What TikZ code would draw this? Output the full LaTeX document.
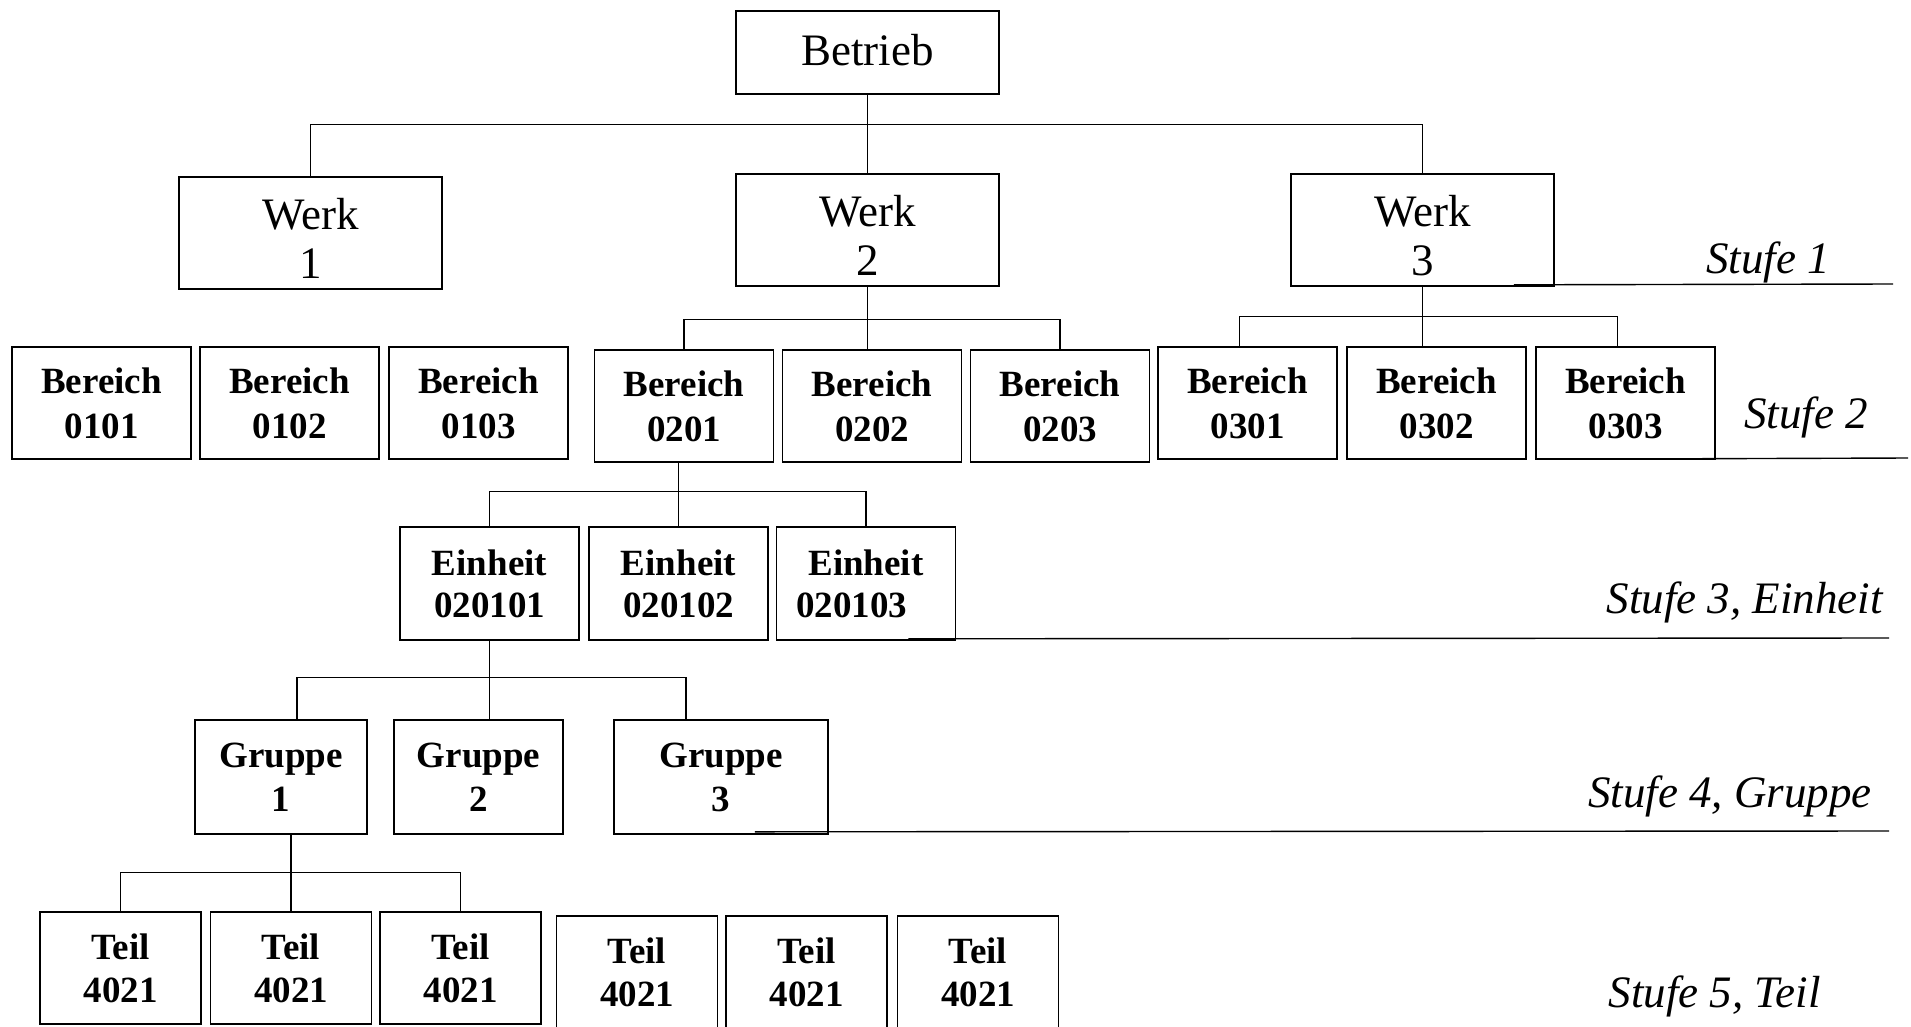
\documentclass[tikz,border=0pt]{standalone}
\usepackage{fontspec}
\setmainfont{Liberation Serif}
\begin{document}
\begin{tikzpicture}[x=1pt, y=-1pt,
    orgbox/.style={draw, line width=1.6pt, inner sep=0pt, align=center},
    werkbox/.style={orgbox, minimum width=263pt, minimum height=112pt, font=\fontsize{45}{49}\selectfont},
    bereichbox/.style={orgbox, minimum width=179pt, minimum height=112pt, font=\fontsize{37}{45}\selectfont\bfseries},
    einheitbox/.style={orgbox, minimum width=179pt, minimum height=113pt, font=\fontsize{37}{42}\selectfont\bfseries},
    gruppebox/.style={orgbox, minimum height=114pt, font=\fontsize{37}{44}\selectfont\bfseries},
    teilbox/.style={orgbox, minimum width=161pt, minimum height=112pt, font=\fontsize{37}{43}\selectfont\bfseries},
    conn/.style={line width=1.4pt},
    lvl/.style={inner sep=0pt, anchor=base east, font=\fontsize{45}{49}\selectfont\itshape}]
    \useasboundingbox (0,0) rectangle (1911,1026);
    \clip (0,0) rectangle (1911,1026);

    \node[werkbox, minimum height=83pt] (betrieb) at (867.5,52.5) {Betrieb\rule[-5pt]{0pt}{5pt}};
    \node[werkbox] (werk1) at (310.5,233) {\rule{0pt}{42pt}Werk\\1};
    \node[werkbox] (werk2) at (867.5,230) {\rule{0pt}{42pt}Werk\\2};
    \node[werkbox] (werk3) at (1422.5,230) {\rule{0pt}{42pt}Werk\\3};

    \node[bereichbox] (b0101) at (101.5,403) {Bereich\\0101};
    \node[bereichbox] (b0102) at (289.5,403) {Bereich\\0102};
    \node[bereichbox] (b0103) at (478.5,403) {Bereich\\0103};
    \node[bereichbox] (b0201) at (684,406) {Bereich\\0201};
    \node[bereichbox] (b0202) at (872,406) {Bereich\\0202};
    \node[bereichbox] (b0203) at (1060,406) {Bereich\\0203};
    \node[bereichbox] (b0301) at (1247.5,403) {Bereich\\0301};
    \node[bereichbox] (b0302) at (1436.5,403) {Bereich\\0302};
    \node[bereichbox] (b0303) at (1625.5,403) {Bereich\\0303};

    \node[einheitbox] (e020101) at (489.5,583.5) {Einheit\\020101};
    \node[einheitbox] (e020102) at (678.5,583.5) {Einheit\\020102};
    \node[einheitbox] (e020103) at (866,583.5) {Einheit\\020103\hspace*{0.78em}};

    \node[gruppebox, minimum width=172pt] (g1) at (281,777) {Gruppe\\1};
    \node[gruppebox, minimum width=169pt] (g2) at (478.5,777) {Gruppe\\2};
    \node[gruppebox, minimum width=214pt] (g3) at (721,777) {Gruppe\\3};

    \node[teilbox] (t1) at (120.5,968) {Teil\\4021};
    \node[teilbox] (t2) at (291,968) {Teil\\4021};
    \node[teilbox] (t3) at (460.5,968) {Teil\\4021};
    \node[teilbox] (t4) at (637,972) {Teil\\4021};
    \node[teilbox] (t5) at (806.5,972) {Teil\\4021};
    \node[teilbox] (t6) at (978,972) {Teil\\4021};

    \draw[conn] (betrieb.south) -- (werk2.north);
    \draw[conn] (werk1.north) -- ++(0,-51.5) -| (werk3.north);
    \draw[conn] (werk2.south) -- (werk2.south |- b0202.north);
    \draw[conn] (b0201.north) -- ++(0,-29.5) -| (b0203.north);
    \draw[conn] (werk3.south) -- (werk3.south |- b0302.north);
    \draw[conn] ([xshift=-8pt]b0301.north) -- ++(0,-30) -| ([xshift=-8pt]b0303.north);
    \draw[conn] (e020102.north) -- (e020102.north |- b0201.south);
    \draw[conn] (e020101.north) -- ++(0,-35) -| (e020103.north);
    \draw[conn] (e020101.south) -- (e020101.south |- g2.north);
    \draw[conn] ([xshift=16pt]g1.north) -- ++(0,-42) -| ([xshift=-35pt]g3.north);
    \draw[conn] (t2.north) -- (t2.north |- g1.south);
    \draw[conn] (t1.north) -- ++(0,-39) -| (t3.north);

    \coordinate (s1end) at (1893,284);
    \coordinate (s2end) at (1908,458);
    \coordinate (s3end) at (1889,638);
    \coordinate (s4end) at (1889,831);
    \draw[conn] ([shift={(-41,-2)}]werk3.south east) -- (s1end);
    \draw[conn] ([shift={(-46,-1)}]b0303.south east) -- (s2end);
    \draw[conn] ([shift={(-48,-2)}]e020103.south east) -- (s3end);
    \draw[conn] ([shift={(-74,-3)}]g3.south east) -- (s4end);

    \node[lvl] (stufe1) at (1830,273) {Stufe 1};
    \node[lvl] (stufe2) at (1868,428) {Stufe 2};
    \node[lvl] (stufe3) at (1883,613) {Stufe 3, Einheit};
    \node[lvl] (stufe4) at (1872,807) {Stufe 4, Gruppe};
    \node[lvl] (stufe5) at (1821,1007) {Stufe 5, Teil};
\end{tikzpicture}
\end{document}
